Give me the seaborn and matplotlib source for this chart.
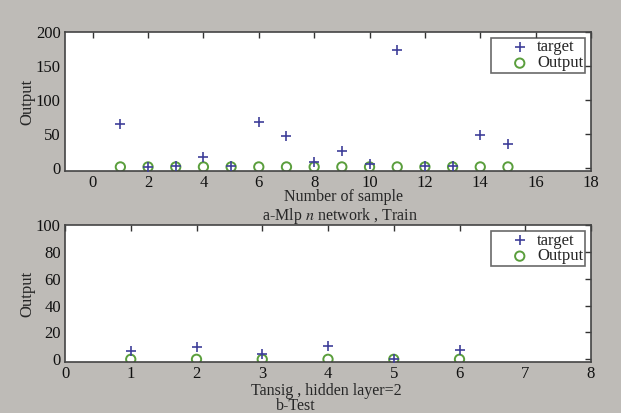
import numpy as np
import matplotlib
matplotlib.use("Agg")
import matplotlib.pyplot as plt
import seaborn as sns

# train data (panel a)
train_sample = [1, 2, 3, 4, 5, 6, 7, 8, 9, 10, 11, 12, 13, 14, 15]
train_target = [65, 1, 2, 16, 2, 68, 46, 8, 24, 6, 173, 3, 3, 48, 35]
train_output = [1, 1, 1, 1, 1, 1, 1, 1, 1, 1, 1, 1, 1, 1, 1]

# test data (panel b)
test_sample = [1, 2, 3, 4, 5, 6]
test_target = [6, 9, 4, 10, 0, 7]
test_output = [0, 0, 0, 0, 0, 0]

sns.set_style("white")
plt.rcParams['font.family'] = ['Liberation Serif', 'DejaVu Serif']
plt.rcParams['mathtext.fontset'] = 'stix'

bg = '#bebbb7'
blue = '#3f3f9a'
green = '#5a9e3c'
fs = 12
fs_lab = 11.5

fig = plt.figure(figsize=(6.21, 4.13), dpi=100, facecolor=bg)
W, H = 621, 413
ax1 = fig.add_axes([65 / W, 1 - 171 / H, 526 / W, 139 / H])
ax2 = fig.add_axes([65 / W, 1 - 362 / H, 526 / W, 137 / H])


def panel(ax, x, tgt, out, xlim, ylim, xticks, yticks):
    sns.scatterplot(x=x, y=tgt, marker='+', s=60, color=blue, linewidth=1.2,
                    label='target', ax=ax, zorder=3)
    sns.scatterplot(x=x, y=out, marker='o', s=45, facecolors='none',
                    edgecolor=green, linewidth=1.4, label='Output', ax=ax, zorder=2)
    ax.set_xlim(*xlim)
    ax.set_ylim(*ylim)
    ax.set_xticks(xticks)
    ax.set_yticks(yticks)
    ax.tick_params(direction='in', top=True, right=True, length=4, width=1,
                   labelsize=fs, pad=3, colors='#333333', labelcolor='#111111')
    ax.tick_params(axis='x', pad=3)
    for s in ax.spines.values():
        s.set_linewidth(1.2)
        s.set_color('#444444')
    ax.set_ylabel('Output', fontsize=fs)
    leg = ax.legend(loc='upper right', fontsize=fs, frameon=True, fancybox=False,
                    edgecolor='#444444', borderpad=0.1, handletextpad=-0.6,
                    labelspacing=0.0, handlelength=3.3, borderaxespad=0.35)
    leg.get_frame().set_linewidth(1.2)


panel(ax1, train_sample, train_target, train_output, (-1, 18), (-5, 200),
      range(0, 19, 2), range(0, 201, 50))
panel(ax2, test_sample, test_target, test_output, (0, 8), (-2, 100),
      range(0, 9), range(0, 101, 20))

ax1.yaxis.set_label_coords((35 - 65) / 526, 0.5)
ax2.yaxis.set_label_coords((35 - 65) / 526, 0.5)

fig.text(344 / W, 1 - 201 / H, 'Number of sample', ha='center', va='baseline', fontsize=fs_lab)
fig.text(340 / W, 1 - 220 / H, r'a-Mlp $\mathit{n}$ network , Train', ha='center',
         va='baseline', fontsize=fs_lab)
fig.text(326 / W, 1 - 395 / H, 'Tansig , hidden layer=2', ha='center', va='baseline', fontsize=fs_lab)
fig.text(296 / W, 1 - 410 / H, 'b-Test', ha='center', va='baseline', fontsize=fs_lab)

fig.savefig('out.png', dpi=100, facecolor=bg)
